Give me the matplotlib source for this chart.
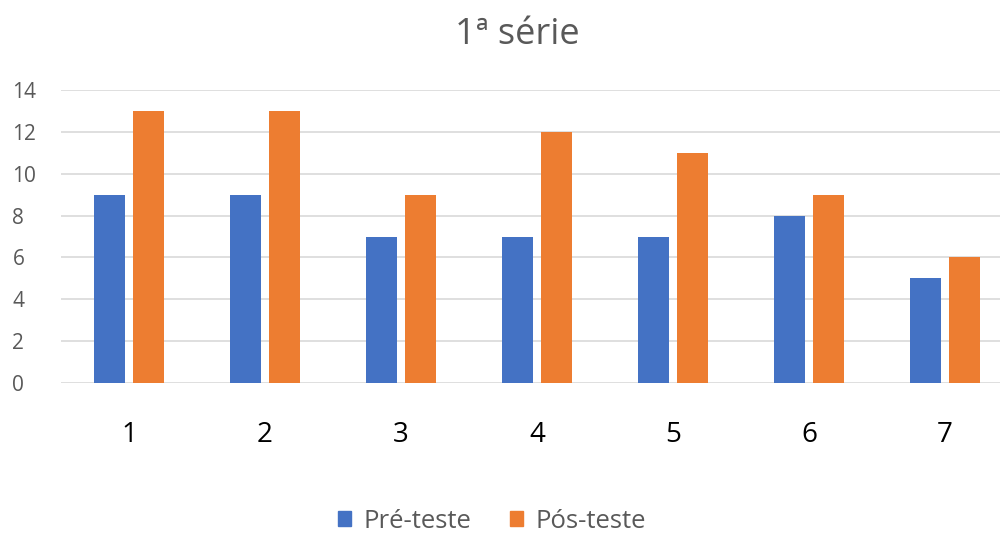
import matplotlib
matplotlib.use('agg')
import numpy as np
import matplotlib.pyplot as plt
from matplotlib.patches import Patch

plt.rcParams['font.family'] = ['Open Sans', 'DejaVu Sans']

# Dados
turmas = ['1', '2', '3', '4', '5', '6', '7']
pre_teste = [9, 9, 7, 7, 7, 8, 5]
pos_teste = [13, 13, 9, 12, 11, 9, 6]

azul = '#4472C4'
laranja = '#ED7D31'

fig = plt.figure(figsize=(10, 5.33), dpi=100)
ax = fig.add_axes([0.061, 0.2814, 0.952, 0.5497])

x = np.arange(len(turmas))
largura = 0.23
ax.bar(x - 0.145, pre_teste, largura, color=azul, zorder=3)
ax.bar(x + 0.145, pos_teste, largura, color=laranja, zorder=3)

ax.set_xlim(-0.5, len(turmas) - 0.5)
ax.set_ylim(0, 14)
ax.set_yticks(range(0, 15, 2))
ax.set_xticks(x)
ax.set_xticklabels(turmas, fontsize=20, color='black')
ax.tick_params(axis='x', length=0, pad=27)
ax.tick_params(axis='y', length=0, pad=35, labelsize=15, labelcolor='#595959')
for lbl in ax.get_yticklabels():
    lbl.set_horizontalalignment('left')

ax.grid(axis='y', color='#D9D9D9', linewidth=1.2, zorder=0)
for s in ax.spines.values():
    s.set_visible(False)

fig.text(0.517, 0.935, '1ª série', ha='center', va='center',
         fontsize=26, color='#595959')

handles = [Patch(color=azul, label='Pré-teste'),
           Patch(color=laranja, label='Pós-teste')]
fig.legend(handles=handles, loc='center', bbox_to_anchor=(0.492, 0.022),
           ncol=2, frameon=False, fontsize=18.5, labelcolor='#595959',
           handlelength=0.5, handleheight=0.5, handletextpad=0.5,
           columnspacing=1.5)

plt.savefig('out.png', dpi=100)
